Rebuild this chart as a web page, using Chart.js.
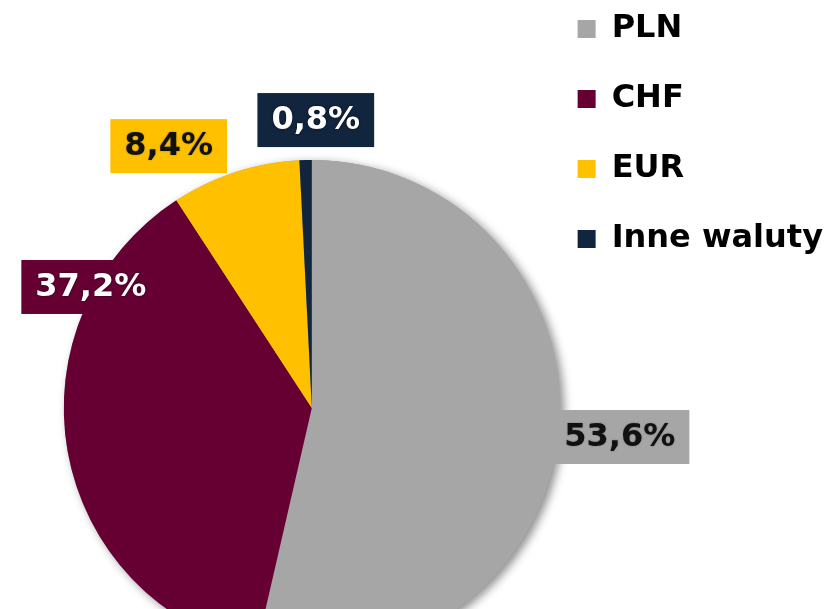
<!DOCTYPE html>
<html>
<head>
<meta charset="utf-8">
<script src="https://cdn.jsdelivr.net/npm/chart.js@4/dist/chart.umd.min.js"></script>
<style>
  html, body { margin: 0; padding: 0; background: #fff; overflow: hidden; }
  #wrap { position: relative; width: 830px; height: 609px; overflow: hidden; }
  #box { position: absolute; left: 0; top: -25px; width: 833px; height: 880px; }
</style>
</head>
<body>
<div id="wrap"><div id="box"><canvas id="chart"></canvas></div></div>
<script>
const categories = ['PLN', 'CHF', 'EUR', 'Inne waluty']
const shares = [53.6, 37.2, 8.4, 0.8]
const sliceColors = ['#A6A6A6', '#660033', '#FFC000', '#12253F']
const labelTextColors = ['#111111', '#ffffff', '#111111', '#ffffff']

// where each value box sits, as a multiple of the pie radius from its centre
const labelOffsets = [[1.242, 0.117], [-0.891, -0.488], [-0.577, -1.056], [0.016, -1.161]]

const FONT = 'DejaVu Sans'

const pieShadow = {
  id: 'pieShadow',
  beforeDatasetsDraw(chart) {
    const arc = chart.getDatasetMeta(0).data[0]
    if (!arc) return
    const ctx = chart.ctx
    ctx.save()
    ctx.shadowColor = 'rgba(0,0,0,0.45)'
    ctx.shadowBlur = 10
    ctx.shadowOffsetX = 4
    ctx.shadowOffsetY = 3
    ctx.fillStyle = '#A6A6A6'
    ctx.beginPath()
    ctx.arc(arc.x, arc.y, arc.outerRadius, 0, Math.PI * 2)
    ctx.fill()
    ctx.restore()
  }
}

const valueBoxes = {
  id: 'valueBoxes',
  afterDatasetsDraw(chart) {
    const ctx = chart.ctx
    const meta = chart.getDatasetMeta(0)
    ctx.save()
    ctx.font = 'bold 32px "' + FONT + '"'
    ctx.textAlign = 'center'
    ctx.textBaseline = 'middle'
    meta.data.forEach((arc, i) => {
      const text = shares[i].toFixed(1).replace('.', ',') + '%'
      const cx = arc.x + labelOffsets[i][0] * arc.outerRadius
      const cy = arc.y + labelOffsets[i][1] * arc.outerRadius
      const w = ctx.measureText(text).width + 28
      const h = 54
      ctx.fillStyle = sliceColors[i]
      ctx.fillRect(cx - w / 2, cy - h / 2, w, h)
      ctx.save()
      const light = labelTextColors[i] === '#ffffff'
      ctx.shadowColor = light ? 'rgba(0,0,0,0.6)' : 'rgba(0,0,0,0.3)'
      ctx.shadowBlur = light ? 3 : 2
      ctx.fillStyle = labelTextColors[i]
      ctx.fillText(text, cx, cy + 1)
      ctx.restore()
    })
    ctx.restore()
  }
}

new Chart(document.getElementById('chart'), {
  type: 'pie',
  data: {
    labels: categories,
    datasets: [{
      data: shares,
      backgroundColor: sliceColors,
      borderWidth: 0
    }]
  },
  plugins: [pieShadow, valueBoxes],
  options: {
    responsive: true,
    maintainAspectRatio: false,
    animation: false,
    radius: 248,
    layout: {
      padding: { left: 84, right: 0, top: 0, bottom: 14 }
    },
    plugins: {
      tooltip: { enabled: false },
      legend: {
        position: 'right',
        align: 'start',
        labels: {
          color: '#000',
          boxWidth: 18,
          boxHeight: 18,
          padding: 38,
          font: { family: FONT, size: 32, weight: 'bold' }
        }
      }
    }
  }
})
</script>
</body>
</html>
